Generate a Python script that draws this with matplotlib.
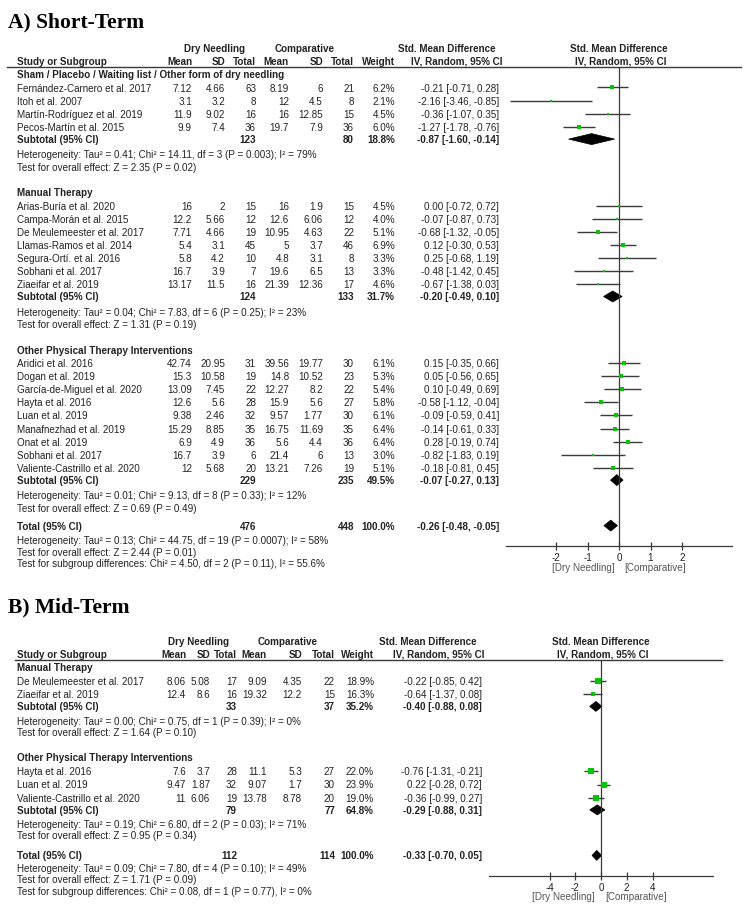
import numpy as np
import matplotlib.pyplot as plt
from matplotlib.patches import Polygon

plt.rcParams['font.family'] = ['Liberation Sans', 'DejaVu Sans']
plt.rcParams['axes.unicode_minus'] = False

W, H = 749, 920
TXT = '#222222'
GREEN = '#00c800'
LINE = '#3a3a3a'

# ---------------- A) Short-Term ----------------
a_groups = ['Sham / Placebo / Waiting list / Other form of dry needling',
            'Manual Therapy', 'Other Physical Therapy Interventions']
a_group_of = [0, 0, 0, 0, 1, 1, 1, 1, 1, 1, 1, 2, 2, 2, 2, 2, 2, 2, 2, 2]
a_study = ['Fernández-Carnero et al. 2017', 'Itoh et al. 2007', 'Martín-Rodríguez et al. 2019',
           'Pecos-Martín et al. 2015',
           'Arias-Buría et al. 2020', 'Campa-Morán et al. 2015', 'De Meulemeester et al. 2017',
           'Llamas-Ramos et al. 2014', 'Segura-Ortí. et al. 2016', 'Sobhani et al. 2017',
           'Ziaeifar et al. 2019',
           'Aridici et al. 2016', 'Dogan et al. 2019', 'García-de-Miguel et al. 2020',
           'Hayta et al. 2016', 'Luan et al. 2019', 'Manafnezhad et al. 2019', 'Onat et al. 2019',
           'Sobhani et al. 2017', 'Valiente-Castrillo et al. 2020']
a_dn_mean = [7.12, 3.1, 11.9, 9.9, 16, 12.2, 7.71, 5.4, 5.8, 16.7, 13.17,
             42.74, 15.3, 13.09, 12.6, 9.38, 15.29, 6.9, 16.7, 12]
a_dn_sd = [4.66, 3.2, 9.02, 7.4, 2, 5.66, 4.66, 3.1, 4.2, 3.9, 11.5,
           20.95, 10.58, 7.45, 5.6, 2.46, 8.85, 4.9, 3.9, 5.68]
a_dn_n = [63, 8, 16, 36, 15, 12, 19, 45, 10, 7, 16, 31, 19, 22, 28, 32, 35, 36, 6, 20]
a_cp_mean = [8.19, 12, 16, 19.7, 16, 12.6, 10.95, 5, 4.8, 19.6, 21.39,
             39.56, 14.8, 12.27, 15.9, 9.57, 16.75, 5.6, 21.4, 13.21]
a_cp_sd = [6, 4.5, 12.85, 7.9, 1.9, 6.06, 4.63, 3.7, 3.1, 6.5, 12.36,
           19.77, 10.52, 8.2, 5.6, 1.77, 11.69, 4.4, 6, 7.26]
a_cp_n = [21, 8, 15, 36, 15, 12, 22, 46, 8, 13, 17, 30, 23, 22, 27, 30, 35, 36, 13, 19]
a_weight = [6.2, 2.1, 4.5, 6.0, 4.5, 4.0, 5.1, 6.9, 3.3, 3.3, 4.6,
            6.1, 5.3, 5.4, 5.8, 6.1, 6.4, 6.4, 3.0, 5.1]
a_smd = [-0.21, -2.16, -0.36, -1.27, 0.00, -0.07, -0.68, 0.12, 0.25, -0.48, -0.67,
         0.15, 0.05, 0.10, -0.58, -0.09, -0.14, 0.28, -0.82, -0.18]
a_lo = [-0.71, -3.46, -1.07, -1.78, -0.72, -0.87, -1.32, -0.30, -0.68, -1.42, -1.38,
        -0.35, -0.56, -0.49, -1.12, -0.59, -0.61, -0.19, -1.83, -0.81]
a_hi = [0.28, -0.85, 0.35, -0.76, 0.72, 0.73, -0.05, 0.53, 1.19, 0.45, 0.03,
        0.66, 0.65, 0.69, -0.04, 0.41, 0.33, 0.74, 0.19, 0.45]
a_sub_dn_n = [123, 124, 229]
a_sub_cp_n = [80, 133, 235]
a_sub_weight = [18.8, 31.7, 49.5]
a_sub_smd = [-0.87, -0.20, -0.07]
a_sub_lo = [-1.60, -0.49, -0.27]
a_sub_hi = [-0.14, 0.10, 0.13]
a_sub_het = ['Heterogeneity: Tau² = 0.41; Chi² = 14.11, df = 3 (P = 0.003); I² = 79%',
             'Heterogeneity: Tau² = 0.04; Chi² = 7.83, df = 6 (P = 0.25); I² = 23%',
             'Heterogeneity: Tau² = 0.01; Chi² = 9.13, df = 8 (P = 0.33); I² = 12%']
a_sub_z = ['Test for overall effect: Z = 2.35 (P = 0.02)',
           'Test for overall effect: Z = 1.31 (P = 0.19)',
           'Test for overall effect: Z = 0.69 (P = 0.49)']
a_total = [476, 448, 100.0, -0.26, -0.48, -0.05]
a_total_notes = ['Heterogeneity: Tau² = 0.13; Chi² = 44.75, df = 19 (P = 0.0007); I² = 58%',
                 'Test for overall effect: Z = 2.44 (P = 0.01)',
                 'Test for subgroup differences: Chi² = 4.50, df = 2 (P = 0.11), I² = 55.6%']
a_ticks = [-2, -1, 0, 1, 2]

# ---------------- B) Mid-Term ----------------
b_groups = ['Manual Therapy', 'Other Physical Therapy Interventions']
b_group_of = [0, 0, 1, 1, 1]
b_study = ['De Meulemeester et al. 2017', 'Ziaeifar et al. 2019',
           'Hayta et al. 2016', 'Luan et al. 2019', 'Valiente-Castrillo et al. 2020']
b_dn_mean = [8.06, 12.4, 7.6, 9.47, 11]
b_dn_sd = [5.08, 8.6, 3.7, 1.87, 6.06]
b_dn_n = [17, 16, 28, 32, 19]
b_cp_mean = [9.09, 19.32, 11.1, 9.07, 13.78]
b_cp_sd = [4.35, 12.2, 5.3, 1.7, 8.78]
b_cp_n = [22, 15, 27, 30, 20]
b_weight = [18.9, 16.3, 22.0, 23.9, 19.0]
b_smd = [-0.22, -0.64, -0.76, 0.22, -0.36]
b_lo = [-0.85, -1.37, -1.31, -0.28, -0.99]
b_hi = [0.42, 0.08, -0.21, 0.72, 0.27]
b_sub_dn_n = [33, 79]
b_sub_cp_n = [37, 77]
b_sub_weight = [35.2, 64.8]
b_sub_smd = [-0.40, -0.29]
b_sub_lo = [-0.88, -0.88]
b_sub_hi = [0.08, 0.31]
b_sub_het = ['Heterogeneity: Tau² = 0.00; Chi² = 0.75, df = 1 (P = 0.39); I² = 0%',
             'Heterogeneity: Tau² = 0.19; Chi² = 6.80, df = 2 (P = 0.03); I² = 71%']
b_sub_z = ['Test for overall effect: Z = 1.64 (P = 0.10)',
           'Test for overall effect: Z = 0.95 (P = 0.34)']
b_total = [112, 114, 100.0, -0.33, -0.70, 0.05]
b_total_notes = ['Heterogeneity: Tau² = 0.09; Chi² = 7.80, df = 4 (P = 0.10); I² = 49%',
                 'Test for overall effect: Z = 1.71 (P = 0.09)',
                 'Test for subgroup differences: Chi² = 0.08, df = 1 (P = 0.77), I² = 0%']
b_ticks = [-4, -2, 0, 2, 4]

fig = plt.figure(figsize=(W / 100, H / 100), dpi=100)
tax = fig.add_axes([0, 0, 1, 1])
tax.set_xlim(0, W)
tax.set_ylim(H, 0)
tax.axis('off')

FS = 7.1


def txt(x, y, s, ha='left', bold=False, color=TXT, fs=FS):
    tax.text(x, y, s, ha=ha, va='center', fontsize=fs, color=color,
             fontweight='bold' if bold else 'normal')


def smd_str(m, lo, hi):
    return f'{m:.2f} [{lo:.2f}, {hi:.2f}]'


def diamond(ax, m, lo, hi, y, hh):
    ax.add_patch(Polygon([(lo, y), (m, y - hh), (hi, y), (m, y + hh)], closed=True,
                         fc='black', ec='black', lw=0.5))


def forest_axes(left, right, top, bottom, xlim, ticks):
    ax = fig.add_axes([left / W, 1 - bottom / H, (right - left) / W, (bottom - top) / H])
    ax.set_xlim(*xlim)
    ax.set_ylim(bottom, top)
    ax.patch.set_visible(False)
    for s in ['top', 'right', 'left']:
        ax.spines[s].set_visible(False)
    ax.spines['bottom'].set_color(LINE)
    ax.spines['bottom'].set_linewidth(0.9)
    ax.set_yticks([])
    ax.set_xticks(ticks)
    ax.set_xticklabels([str(t) for t in ticks])
    ax.tick_params(axis='x', direction='inout', length=6, width=0.9, labelsize=FS,
                   pad=1, colors=LINE, labelcolor=TXT)
    ax.axvline(0, color=LINE, lw=0.9)
    return ax


def draw_panel(d, lay):
    cols = lay['cols']
    xn = 17
    # title + column headers
    tax.text(8, lay['title_y'], d['title'], ha='left', va='center', fontsize=15.5,
             fontfamily='Liberation Serif', fontweight='bold', color='black')
    y1, y2 = lay['hdr_y']
    txt(lay['dn_c'], y1, 'Dry Needling', ha='center', bold=True)
    txt(lay['cp_c'], y1, 'Comparative', ha='center', bold=True)
    txt(lay['smd_c'][0], y1, 'Std. Mean Difference', ha='center', bold=True)
    txt(lay['smd_c'][1], y2, 'IV, Random, 95% CI', ha='center', bold=True)
    txt(lay['plot_c'][0], y1, 'Std. Mean Difference', ha='center', bold=True)
    txt(lay['plot_c'][1], y2, 'IV, Random, 95% CI', ha='center', bold=True)
    txt(xn, y2, 'Study or Subgroup', bold=True)
    for c, h in zip(cols[:7], ['Mean', 'SD', 'Total', 'Mean', 'SD', 'Total', 'Weight']):
        txt(c, y2, h, ha='right', bold=True)
    tax.plot([lay['line_x0'], lay['line_x1']], [lay['line_y'], lay['line_y']],
             color=LINE, lw=1.0)

    fax = forest_axes(lay['fx0'], lay['fx1'], lay['line_y'], lay['axis_y'], lay['xlim'], d['ticks'])
    sp = lay['sp']
    y = lay['y0']
    for g, gname in enumerate(d['groups']):
        txt(xn, y, gname, bold=True)
        y += sp['hdr']
        idx = [i for i, gi in enumerate(d['group_of']) if gi == g]
        for k, i in enumerate(idx):
            if k > 0:
                y += sp['row']
            vals = [d['dn_mean'][i], d['dn_sd'][i], d['dn_n'][i],
                    d['cp_mean'][i], d['cp_sd'][i], d['cp_n'][i]]
            txt(xn, y, d['study'][i])
            for c, v in zip(cols[:6], vals):
                txt(c, y, f'{v:g}', ha='right')
            txt(cols[6], y, f"{d['weight'][i]:.1f}%", ha='right')
            txt(cols[7], y, smd_str(d['smd'][i], d['lo'][i], d['hi'][i]), ha='right')
            fax.hlines(y, d['lo'][i], d['hi'][i], color=LINE, lw=1.0)
            ms = lay['msk'] * np.sqrt(d['weight'][i])
            fax.plot(d['smd'][i], y, 's', ms=ms, color=GREEN, mec=GREEN, mew=0)
        y += sp['sub']
        txt(xn, y, 'Subtotal (95% CI)', bold=True)
        txt(cols[2], y, str(d['sub_dn_n'][g]), ha='right', bold=True)
        txt(cols[5], y, str(d['sub_cp_n'][g]), ha='right', bold=True)
        txt(cols[6], y, f"{d['sub_weight'][g]:.1f}%", ha='right', bold=True)
        txt(cols[7], y, smd_str(d['sub_smd'][g], d['sub_lo'][g], d['sub_hi'][g]), ha='right', bold=True)
        diamond(fax, d['sub_smd'][g], d['sub_lo'][g], d['sub_hi'][g], y, lay['dh'])
        y += sp['het']
        txt(xn, y, d['sub_het'][g])
        y += sp['z']
        txt(xn, y, d['sub_z'][g])
        if g < len(d['groups']) - 1:
            y += sp['gap']
    y += sp['tot']
    dn, cp, w, m, lo, hi = d['total']
    txt(xn, y, 'Total (95% CI)', bold=True)
    txt(cols[2], y, str(dn), ha='right', bold=True)
    txt(cols[5], y, str(cp), ha='right', bold=True)
    txt(cols[6], y, f'{w:.1f}%', ha='right', bold=True)
    txt(cols[7], y, smd_str(m, lo, hi), ha='right', bold=True)
    diamond(fax, m, lo, hi, y, lay['dh'])
    for k, note in enumerate(d['total_notes']):
        y += sp['tnote'][k]
        txt(xn, y, note)
    txt(lay['fav_x'][0], lay['fav_y'], '[Dry Needling]', ha='center', color='#555555')
    txt(lay['fav_x'][1], lay['fav_y'], '[Comparative]', ha='center', color='#555555')


panel_a = dict(title='A) Short-Term', groups=a_groups, group_of=a_group_of, study=a_study,
               dn_mean=a_dn_mean, dn_sd=a_dn_sd, dn_n=a_dn_n, cp_mean=a_cp_mean, cp_sd=a_cp_sd,
               cp_n=a_cp_n, weight=a_weight, smd=a_smd, lo=a_lo, hi=a_hi,
               sub_dn_n=a_sub_dn_n, sub_cp_n=a_sub_cp_n, sub_weight=a_sub_weight,
               sub_smd=a_sub_smd, sub_lo=a_sub_lo, sub_hi=a_sub_hi, sub_het=a_sub_het,
               sub_z=a_sub_z, total=a_total, total_notes=a_total_notes, ticks=a_ticks)
panel_b = dict(title='B) Mid-Term', groups=b_groups, group_of=b_group_of, study=b_study,
               dn_mean=b_dn_mean, dn_sd=b_dn_sd, dn_n=b_dn_n, cp_mean=b_cp_mean, cp_sd=b_cp_sd,
               cp_n=b_cp_n, weight=b_weight, smd=b_smd, lo=b_lo, hi=b_hi,
               sub_dn_n=b_sub_dn_n, sub_cp_n=b_sub_cp_n, sub_weight=b_sub_weight,
               sub_smd=b_sub_smd, sub_lo=b_sub_lo, sub_hi=b_sub_hi, sub_het=b_sub_het,
               sub_z=b_sub_z, total=b_total, total_notes=b_total_notes, ticks=b_ticks)

lay_a = dict(title_y=22, hdr_y=(49, 62), dn_c=214, cp_c=305, smd_c=(447, 457), plot_c=(619, 621),
             cols=[192, 225, 256, 289, 323, 354, 395, 499], line_x0=7, line_x1=741, line_y=68,
             fx0=619 - 3.6 * 31.5, fx1=619 + 3.6 * 31.5, axis_y=547, xlim=(-3.6, 3.6),
             y0=75, msk=1.0, dh=5.5,
             sp=dict(hdr=13.5, row=13.1, sub=12.3, het=15, z=12.5, gap=25.5, tot=18,
                     tnote=[14, 12, 11.5]),
             fav_x=(583, 655), fav_y=568)
lay_b = dict(title_y=607, hdr_y=(642, 655), dn_c=198, cp_c=288, smd_c=(428, 439), plot_c=(601, 603),
             cols=[186, 210, 237, 267, 302, 335, 374, 482], line_x0=15, line_x1=722, line_y=661,
             fx0=601 - 8.7 * 12.875, fx1=601 + 8.7 * 12.875, axis_y=877, xlim=(-8.7, 8.7),
             y0=668, msk=0.85, dh=5.0,
             sp=dict(hdr=14, row=13.1, sub=12.3, het=14.5, z=11, gap=25.5, tot=20,
                     tnote=[13, 11, 11.5]),
             fav_x=(563, 636), fav_y=897)

draw_panel(panel_a, lay_a)
draw_panel(panel_b, lay_b)

fig.savefig('out.png', dpi=100, facecolor='white')
